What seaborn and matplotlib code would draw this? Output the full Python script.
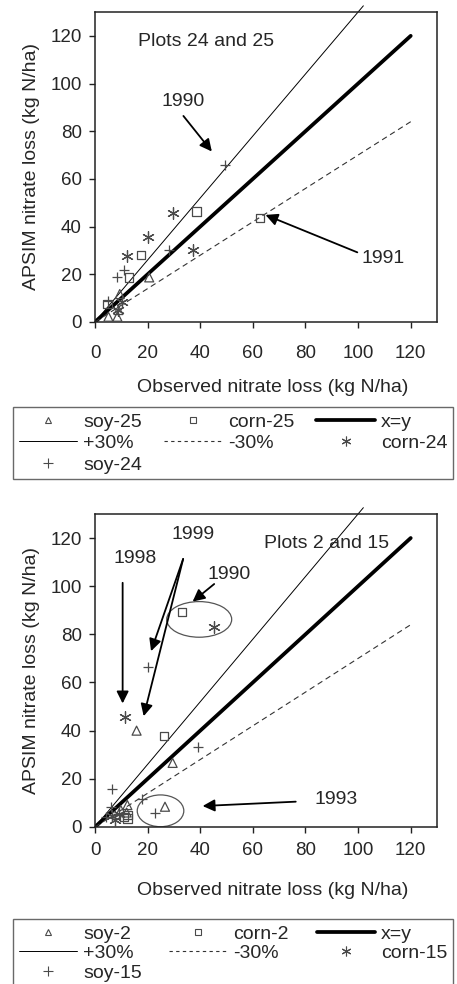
import seaborn as sns
import matplotlib.pyplot as plt
from matplotlib.lines import Line2D
from matplotlib.patches import Ellipse

# ---- data (kg N/ha) ----
# top panel: plots 24 and 25
soy25_x = [20.6, 9.4, 5.1, 8.5, 8.9]
soy25_y = [18.7, 11.7, 2.2, 2.2, 5.0]
corn25_x = [38.6, 17.6, 12.8, 62.6, 4.7]
corn25_y = [46.3, 28.1, 18.7, 43.5, 7.5]
corn24_x = [29.7, 20.2, 12.3, 37.3, 10.2, 8.9]
corn24_y = [45.6, 35.5, 27.7, 30.2, 8.5, 5.0]
soy24_x = [49.5, 28.2, 11.0, 8.5, 5.0]
soy24_y = [66.0, 30.2, 21.8, 19.0, 8.6]

# bottom panel: plots 2 and 15
soy2_x = [15.8, 29.5, 26.6, 12.3, 9.8, 12.0]
soy2_y = [40.0, 26.6, 8.4, 9.1, 7.0, 6.0]
corn2_x = [33.0, 26.3, 12.3, 12.3, 11.0]
corn2_y = [89.4, 37.9, 5.0, 3.5, 4.0]
corn15_x = [45.3, 11.5, 6.6, 7.5, 9.0]
corn15_y = [82.9, 45.5, 4.5, 3.0, 5.5]
soy15_x = [20.0, 39.0, 6.3, 18.0, 22.8, 6.0, 4.0]
soy15_y = [66.6, 33.1, 15.7, 11.5, 5.7, 8.4, 4.3]

# reference lines
one_to_one_x = [0, 120]
plus30_x = [0, 102]
minus30_x = [0, 120]

ticks = [0, 20, 40, 60, 80, 100, 120]
axis_lim = (0, 130)

MARK = '#4a4a4a'
ASTERISK = (6, 2, 0)
FS = 14      # labels / annotations
TFS = 13.5   # tick labels

sns.set_style('ticks')
plt.rcParams['font.family'] = ['Liberation Sans', 'DejaVu Sans']
plt.rcParams['font.size'] = FS

fig = plt.figure(figsize=(4.57, 9.84), dpi=100)
ax_top = fig.add_axes([0.2079, 0.6728, 0.7484, 0.3150])
ax_bot = fig.add_axes([0.2079, 0.1596, 0.7484, 0.3181])


def draw_panel(ax, tri, sq, ast, plus, xpad):
    ax.plot(one_to_one_x, one_to_one_x, color='black', lw=2.7, zorder=2)
    ax.plot(plus30_x, [1.3 * v for v in plus30_x], color='black', lw=0.7,
            clip_on=False, zorder=2)
    ax.plot(minus30_x, [0.7 * v for v in minus30_x], color='#333333', lw=0.8,
            dashes=(5, 3.5), zorder=2)

    sns.scatterplot(x=tri[0], y=tri[1], marker='^', s=42, facecolor='none',
                    edgecolor=MARK, linewidth=0.9, ax=ax, zorder=3)
    sns.scatterplot(x=sq[0], y=sq[1], marker='s', s=36, facecolor='none',
                    edgecolor=MARK, linewidth=0.9, ax=ax, zorder=3)
    sns.scatterplot(x=ast[0], y=ast[1], marker=ASTERISK, s=70, color=MARK,
                    linewidth=0.9, ax=ax, zorder=3)
    sns.scatterplot(x=plus[0], y=plus[1], marker='+', s=55, color=MARK,
                    linewidth=0.9, ax=ax, zorder=3)

    ax.set_xlim(axis_lim)
    ax.set_ylim(axis_lim)
    ax.set_xticks(ticks)
    ax.set_yticks(ticks)
    ax.tick_params(axis='both', direction='out', length=4.5, width=1,
                   color='#222222', labelsize=TFS)
    ax.tick_params(axis='x', pad=xpad)
    ax.tick_params(axis='y', pad=5)
    for sp in ax.spines.values():
        sp.set_linewidth(1.1)
        sp.set_color('#222222')
    ax.set_xlabel('Observed nitrate loss (kg N/ha)', fontsize=FS)
    ax.set_ylabel('APSIM nitrate loss (kg N/ha)', fontsize=FS)
    ax.yaxis.set_label_coords(-0.162, 0.5)


arrow = dict(arrowstyle='-|>', color='black', lw=1.3, mutation_scale=18,
             shrinkA=0, shrinkB=0)

# ---- top panel ----
draw_panel(ax_top, (soy25_x, soy25_y), (corn25_x, corn25_y),
           (corn24_x, corn24_y), (soy24_x, soy24_y), xpad=12)
ax_top.xaxis.set_label_coords(0.52, -0.185)
ax_top.text(16.4, 117.6, 'Plots 24 and 25', va='center', ha='left', fontsize=FS)
ax_top.text(33.5, 92.5, '1990', va='center', ha='center', fontsize=FS)
ax_top.annotate('', xy=(44.4, 71.5), xytext=(33.6, 86.4), arrowprops=arrow)
ax_top.text(109.7, 26.6, '1991', va='center', ha='center', fontsize=FS)
ax_top.annotate('', xy=(64.8, 44.9), xytext=(99.7, 29.2), arrowprops=arrow)

# ---- bottom panel ----
draw_panel(ax_bot, (soy2_x, soy2_y), (corn2_x, corn2_y),
           (corn15_x, corn15_y), (soy15_x, soy15_y), xpad=6)
ax_bot.xaxis.set_label_coords(0.52, -0.175)
ax_bot.text(64.3, 117.8, 'Plots 2 and 15', va='center', ha='left', fontsize=FS)
ax_bot.text(15.2, 111.6, '1998', va='center', ha='center', fontsize=FS)
ax_bot.annotate('', xy=(10.5, 51.3), xytext=(10.5, 101.4), arrowprops=arrow)
ax_bot.text(37.4, 121.3, '1999', va='center', ha='center', fontsize=FS)
ax_bot.annotate('', xy=(21.3, 73.0), xytext=(33.5, 111.3), arrowprops=arrow)
ax_bot.annotate('', xy=(18.5, 46.0), xytext=(33.5, 111.3), arrowprops=arrow)
ax_bot.text(51.1, 104.7, '1990', va='center', ha='center', fontsize=FS)
ax_bot.annotate('', xy=(37.1, 93.6), xytext=(45.3, 100.9), arrowprops=arrow)
ax_bot.text(91.5, 11.2, '1993', va='center', ha='center', fontsize=FS)
ax_bot.annotate('', xy=(40.9, 8.7), xytext=(76.3, 10.5), arrowprops=arrow)
ax_bot.add_patch(Ellipse((39.6, 86.2), 24.7, 14.8, fill=False,
                         edgecolor='#555555', lw=0.9))
ax_bot.add_patch(Ellipse((24.9, 6.7), 17.7, 13.2, fill=False,
                         edgecolor='#555555', lw=0.9))


def legend_handles(tri_lab, sq_lab, ast_lab, plus_lab):
    tri = Line2D([], [], ls='none', marker='^', ms=5, mfc='none', mec=MARK,
                 mew=0.8, label=tri_lab)
    sq = Line2D([], [], ls='none', marker='s', ms=5, mfc='none', mec=MARK,
                mew=0.8, label=sq_lab)
    ast = Line2D([], [], ls='none', marker=ASTERISK, ms=7, color=MARK,
                 mew=0.8, label=ast_lab)
    plus = Line2D([], [], ls='none', marker='+', ms=7, color=MARK,
                  mew=0.8, label=plus_lab)
    xy = Line2D([], [], color='black', lw=2.7, label='x=y')
    p30 = Line2D([], [], color='black', lw=0.7, label='+30%')
    m30 = Line2D([], [], color='#333333', lw=0.8, dashes=(3, 3), label='-30%')
    # matplotlib fills legend columns top to bottom
    return [tri, p30, plus, sq, m30, xy, ast]


leg_kw = dict(loc='upper left', ncol=3, mode='expand', fontsize=FS,
              frameon=True, fancybox=False, edgecolor='#444444',
              borderaxespad=0, handlelength=3.0, handletextpad=0.3,
              columnspacing=0.8, borderpad=0.3)

leg1 = fig.legend(handles=legend_handles('soy-25', 'corn-25', 'corn-24', 'soy-24'),
                  bbox_to_anchor=(0.0284, 0.5091, 0.9628, 0.0772),
                  labelspacing=0.2, **leg_kw)
leg1.get_frame().set_linewidth(1.0)

leg2 = fig.legend(handles=legend_handles('soy-2', 'corn-2', 'corn-15', 'soy-15'),
                  bbox_to_anchor=(0.0284, -0.02, 0.9628, 0.086),
                  labelspacing=0.1, **leg_kw)
leg2.get_frame().set_linewidth(1.0)

fig.savefig('out.png', dpi=100)
